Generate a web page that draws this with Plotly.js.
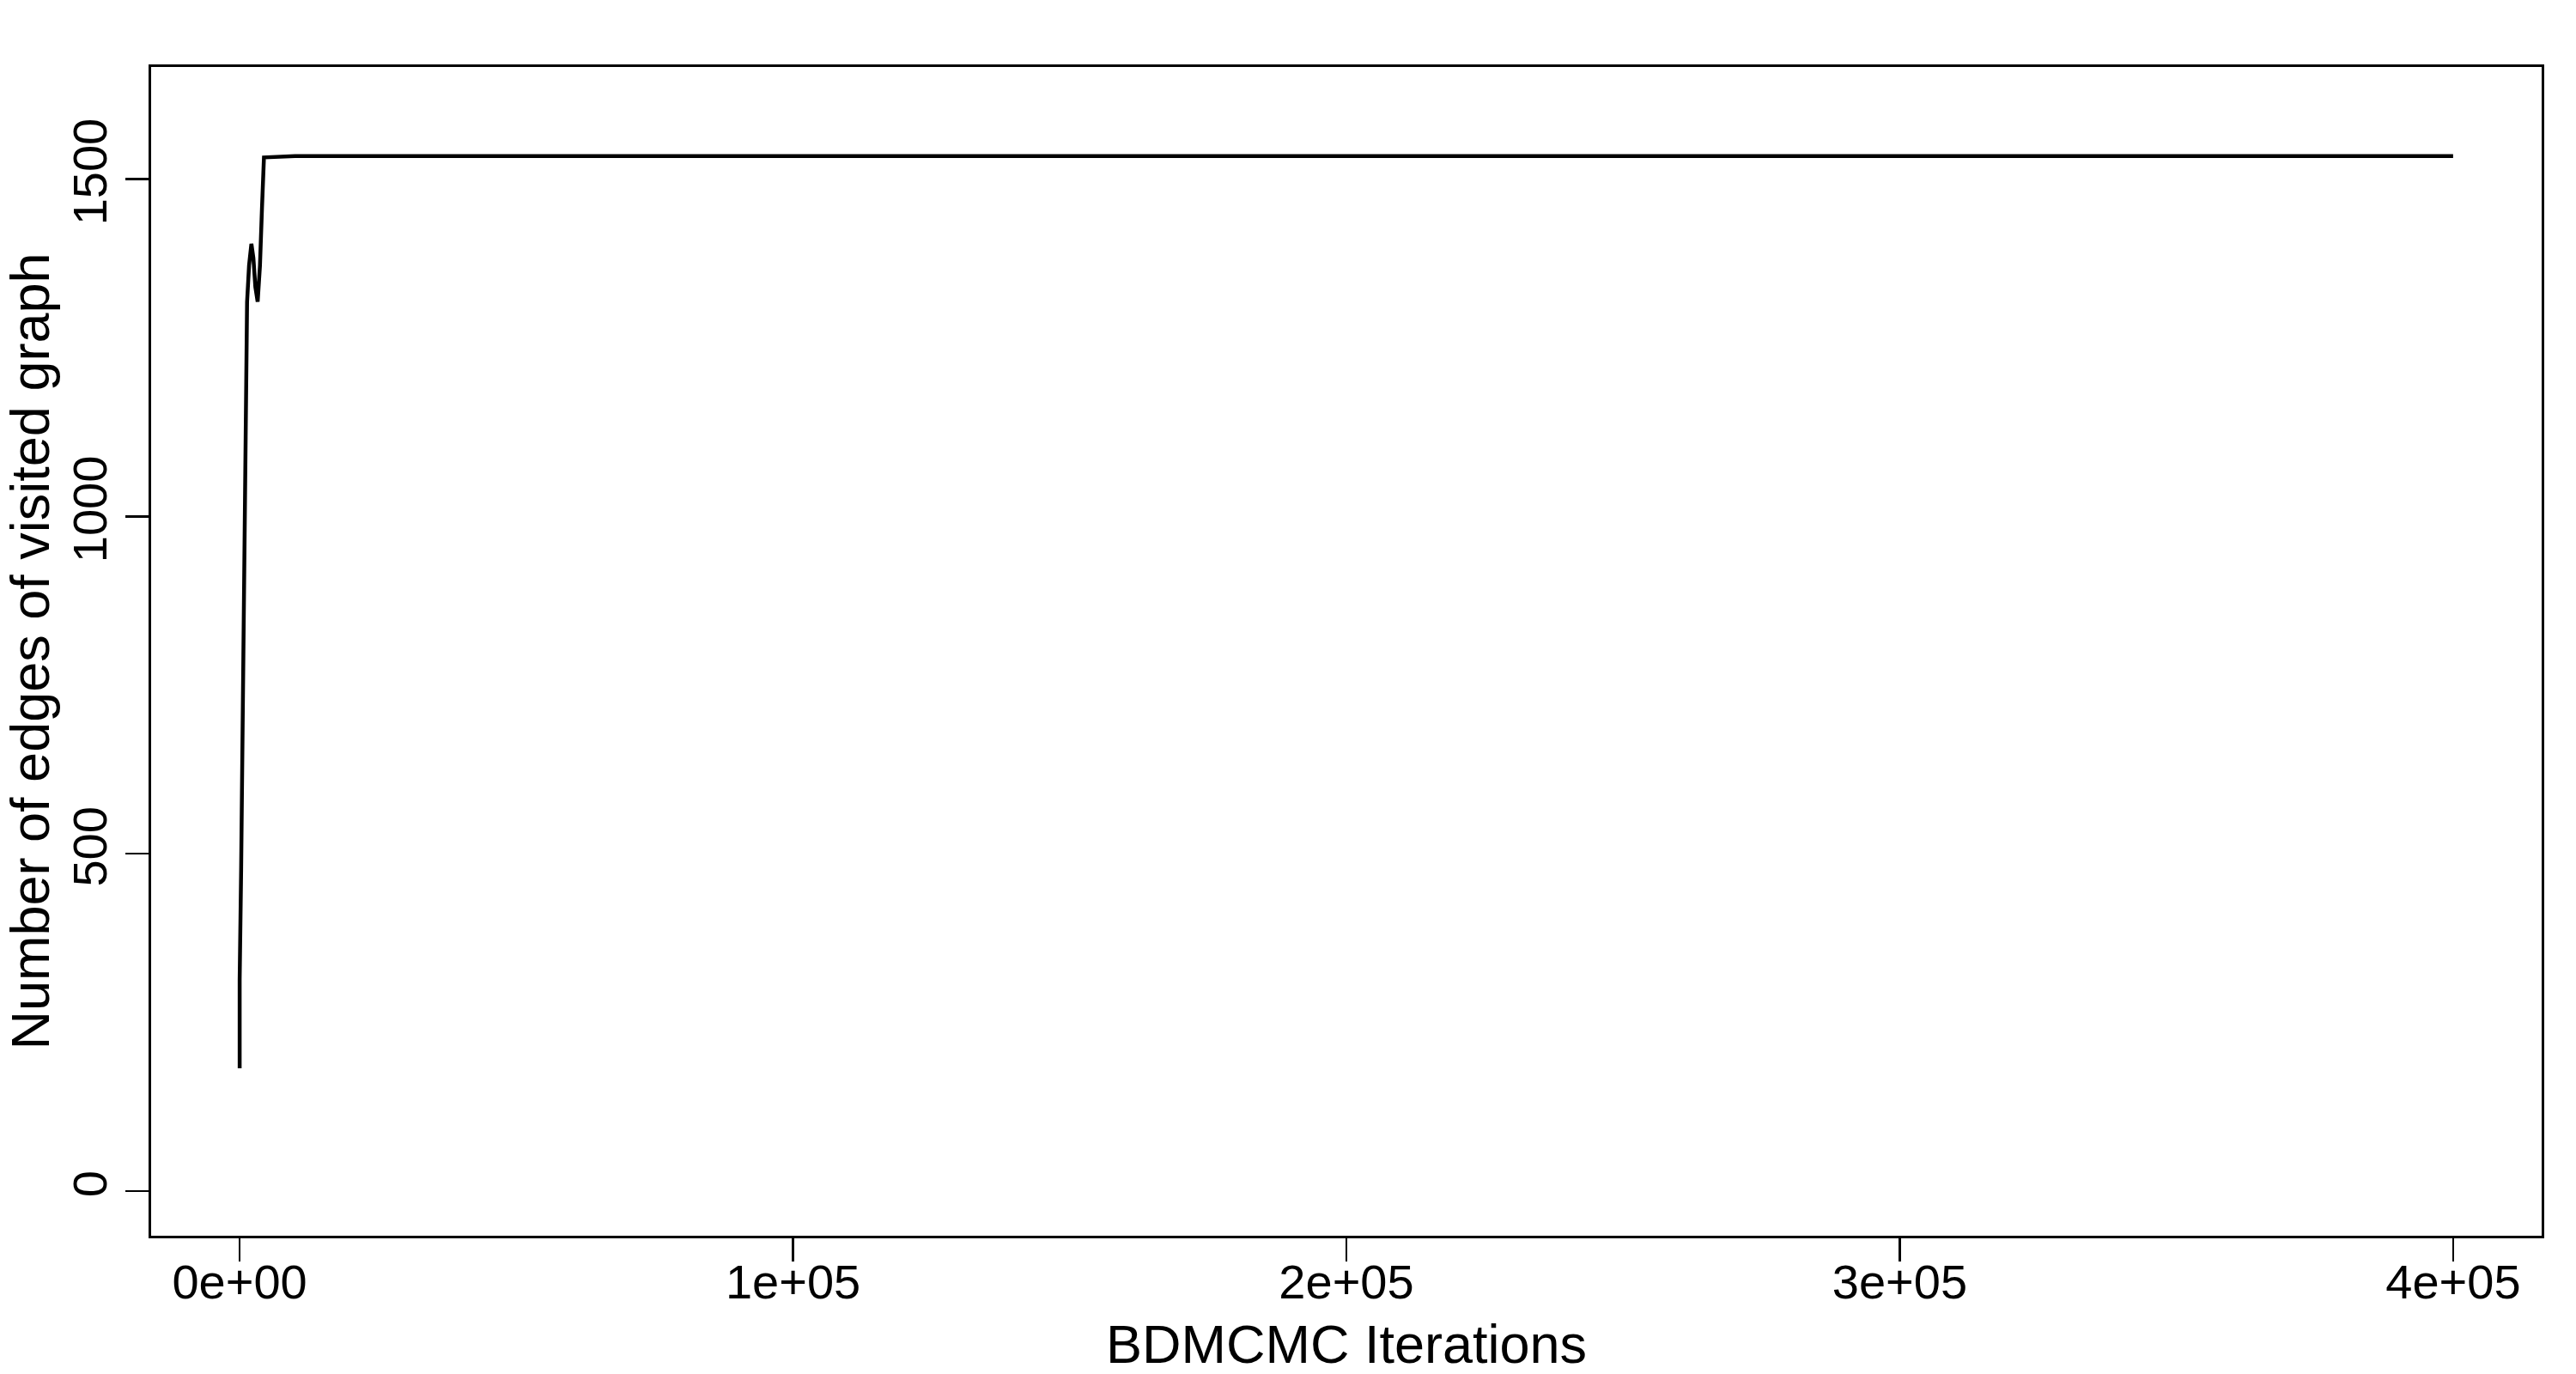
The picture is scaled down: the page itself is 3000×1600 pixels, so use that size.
<!DOCTYPE html>
<html>
<head>
<meta charset="utf-8">
<script src="https://cdn.plot.ly/plotly-3.0.1.min.js"></script>
<style>
  html, body { margin: 0; padding: 0; background: #ffffff; }
  #chart { width: 3000px; height: 1600px; }
</style>
</head>
<body>
<div id="chart"></div>
<script>
// burn-in: steep climb from the starting graph
const burnIterations = [0, 0, 260, 570, 830, 1085, 1340, 1700, 2120, 2480, 2840, 3250, 3670, 4030, 4390];
const burnEdges = [182, 314, 473, 748, 1012, 1192, 1318, 1372, 1404, 1383, 1340, 1318, 1372, 1456, 1532];

// stationary part, read every 10000 iterations
const flatIterations = [
  10000, 20000, 30000, 40000, 50000, 60000, 70000, 80000, 90000, 100000,
  110000, 120000, 130000, 140000, 150000, 160000, 170000, 180000, 190000, 200000,
  210000, 220000, 230000, 240000, 250000, 260000, 270000, 280000, 290000, 300000,
  310000, 320000, 330000, 340000, 350000, 360000, 370000, 380000, 390000, 400000
];
const flatEdges = [
  1534, 1534, 1535, 1534, 1534, 1534, 1535, 1534, 1534, 1535,
  1534, 1534, 1534, 1535, 1534, 1534, 1534, 1535, 1534, 1534,
  1534, 1535, 1534, 1534, 1534, 1534, 1535, 1534, 1534, 1535,
  1534, 1534, 1534, 1534, 1535, 1534, 1534, 1534, 1535, 1534
];

const xTicks = [0, 100000, 200000, 300000, 400000];
const xTickLabels = ['0e+00', '1e+05', '2e+05', '3e+05', '4e+05'];
const yTicks = [0, 500, 1000, 1500];

const iterations = burnIterations.concat(flatIterations);
const edges = burnEdges.concat(flatEdges);

const trace = {
  x: iterations,
  y: edges,
  type: 'scatter',
  mode: 'lines',
  line: { color: '#000000', width: 4.5 },
  hoverinfo: 'skip'
};

const font = { family: 'Liberation Sans, Arial, Helvetica, sans-serif', color: '#000000' };

const layout = {
  width: 3000,
  height: 1600,
  paper_bgcolor: '#ffffff',
  plot_bgcolor: '#ffffff',
  showlegend: false,
  font: font,
  margin: { l: 176, r: 40, t: 78, b: 161 },
  xaxis: {
    range: [-16000, 416000],
    tickvals: xTicks,
    ticktext: xTickLabels,
    ticks: 'outside',
    ticklen: 27,
    tickwidth: 2.5,
    tickcolor: '#000000',
    ticklabelstandoff: -24,
    tickfont: { ...font, size: 56 },
    showgrid: false,
    zeroline: false,
    showline: true,
    mirror: true,
    linecolor: '#000000',
    linewidth: 3,
    title: { text: 'BDMCMC Iterations', font: { ...font, size: 63 }, standoff: 44 }
  },
  yaxis: {
    range: [-66, 1666],
    tickvals: yTicks,
    tickangle: -90,
    ticks: 'outside',
    ticklen: 27,
    tickwidth: 2.5,
    tickcolor: '#000000',
    tickfont: { ...font, size: 56 },
    showgrid: false,
    zeroline: false,
    showline: true,
    mirror: true,
    linecolor: '#000000',
    linewidth: 3,
    title: { text: 'Number of edges of visited graph', font: { ...font, size: 63 }, standoff: 26 }
  }
};

Plotly.newPlot('chart', [trace], layout, { displayModeBar: false, staticPlot: true });
</script>
</body>
</html>
